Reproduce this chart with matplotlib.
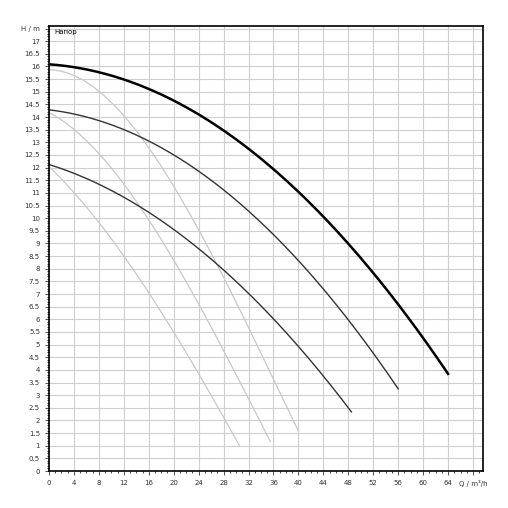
import numpy as np
import matplotlib.pyplot as plt
from matplotlib.ticker import MultipleLocator

# pump curves (Q m3/h, H m)
q_hi = [0, 4, 8, 16, 24, 32, 40, 48, 56, 64]
h_hi = [16.0, 15.95, 15.8, 15.2, 14.2, 12.8, 11.0, 8.8, 6.5, 4.0]
q_mid = [0, 4, 8, 16, 24, 32, 40, 48, 56]
h_mid = [14.3, 14.15, 13.85, 13.0, 11.8, 10.3, 8.4, 6.0, 3.2]
q_lo = [0, 4, 8, 16, 24, 32, 40, 48.5]
h_lo = [12.1, 11.85, 11.3, 10.2, 8.8, 7.0, 5.0, 2.3]

# grey curves
q_g1 = [0, 4, 8, 16, 24, 32, 40]
h_g1 = [15.9, 15.6, 15.0, 12.8, 9.6, 5.6, 1.6]
q_g2 = [0, 4, 8, 16, 24, 32, 35.5]
h_g2 = [14.2, 13.5, 12.5, 10.0, 6.6, 2.8, 1.2]
q_g3 = [0, 4, 8, 16, 24, 30.5]
h_g3 = [12.0, 11.1, 9.8, 7.0, 3.9, 1.0]

fig = plt.figure(figsize=(5.08, 5.08), dpi=100)
ax = fig.add_axes([49/508, (508-471)/508, (483-49)/508, (471-26)/508])

def smooth(x, y, deg=3):
    xs = np.linspace(x[0], x[-1], 200)
    c = np.polyfit(x, y, deg)
    return xs, np.polyval(c, xs)

for x, y in [(q_g1, h_g1), (q_g2, h_g2), (q_g3, h_g3)]:
    ax.plot(*smooth(x, y), color='#c8c8c8', lw=0.9)
ax.plot(*smooth(q_hi, h_hi, 2), color='black', lw=1.8)
ax.plot(*smooth(q_mid, h_mid, 2), color='#333333', lw=1.0)
ax.plot(*smooth(q_lo, h_lo, 2), color='#333333', lw=1.0)

ax.set_xlim(0, 69.6)
ax.set_ylim(0, 17.6)
xt = list(range(0, 69, 4))
ax.set_xticks(xt)
ax.set_xticklabels([str(v) for v in xt[:-1]] + ['Q / m³/h'])
yt = list(np.arange(0, 17.6, 0.5))
ax.set_yticks(yt)
ax.set_yticklabels([('%g' % v) for v in yt[:-1]] + ['H / m'])
ax.xaxis.set_minor_locator(MultipleLocator(1))
ax.yaxis.set_minor_locator(MultipleLocator(0.1))
ax.tick_params(labelsize=5, length=3, width=0.6, colors='#333333')
ax.tick_params(which='minor', length=1.5, width=0.5)
ax.grid(True, color='#cfcfcf', lw=0.8)
for s in ax.spines.values():
    s.set_linewidth(1.2)
ax.text(0.8, 17.35, 'Напор', fontsize=5, va='center')

fig.savefig('out.png', dpi=100)
